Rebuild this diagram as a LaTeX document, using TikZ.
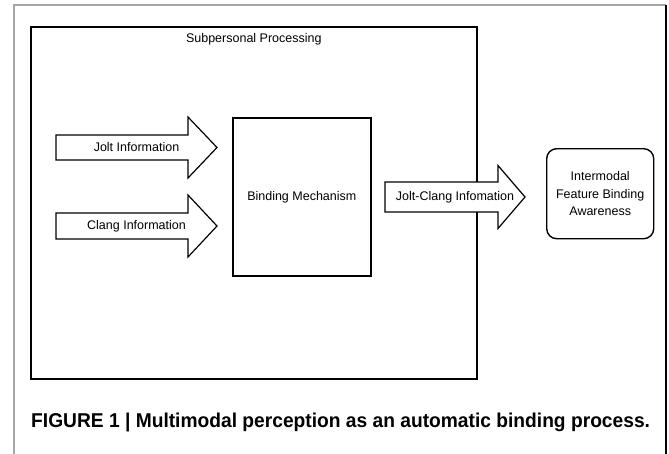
\documentclass[tikz,border=0pt]{standalone}
\usepackage{fontspec}
\setmainfont{Liberation Sans}
\newfontfamily\captionfont[FakeStretch=0.96]{Liberation Sans}
\usetikzlibrary{positioning}
\tikzset{
	box/.style={draw=black, line width=1.6pt, inner sep=0pt},
	label text/.style={font=\fontsize{12.5}{17.5}\selectfont, inner sep=0pt},
	fat arrow/.style={draw=black, fill=white, line width=1.2pt, line join=miter}
}
\newcommand{\fatarrow}[8]{% name, tail x, head x, tip x, mid y, body half, head half, text
	\draw[fat arrow] (#2,#5-#6) -- (#3,#5-#6) -- (#3,#5-#7) -- (#4,#5) -- (#3,#5+#7) -- (#3,#5+#6) -- (#2,#5+#6) -- cycle;
	\node[label text] (#1) at ({(#2+#4)/2},#5) {#8}
}

\begin{document}
\begin{tikzpicture}[x=1pt, y=-1pt]
	\useasboundingbox (0,0) rectangle (669,453);
	\fill[white] (0,0) rectangle (669,453);
	
	% frame of the figure
	\draw[gray!70, line width=1.2pt] (14,470) |- (666,5);
	\draw[black, line width=1.2pt] (666,5) -- (666,470);
	
	\node[box, minimum width=446pt, minimum height=352pt, anchor=north west] (subpersonal) at (30,26) {};
	\node[label text, below=7pt of subpersonal.north] (subtitle) {Subpersonal Processing};
	
	\node[box, label text, line width=1.6pt, minimum width=138pt, minimum height=158pt, anchor=north west] (binding) at (232,117) {Binding Mechanism};
	
	\fatarrow{jolt}{56}{188}{217}{147.5}{12.5}{30.5}{Jolt Information};
	\fatarrow{clang}{56}{188}{217}{226}{13}{31}{Clang Information};
	
	\node[box, label text, line width=1.4pt, rounded corners=10pt, align=center, minimum width=107pt, minimum height=90pt, anchor=north west] (awareness) at (546,148) {Intermodal\\Feature Binding\\Awareness};
	
	\fatarrow{joltclang}{385}{498}{525}{197}{15}{31.5}{Jolt-Clang Infomation};
	
	\node[anchor=base west, inner sep=0pt, font=\captionfont\bfseries\fontsize{20}{22}\selectfont] (caption) at (31,427) {FIGURE 1 | Multimodal perception as an automatic binding process.};
\end{tikzpicture}
\end{document}
